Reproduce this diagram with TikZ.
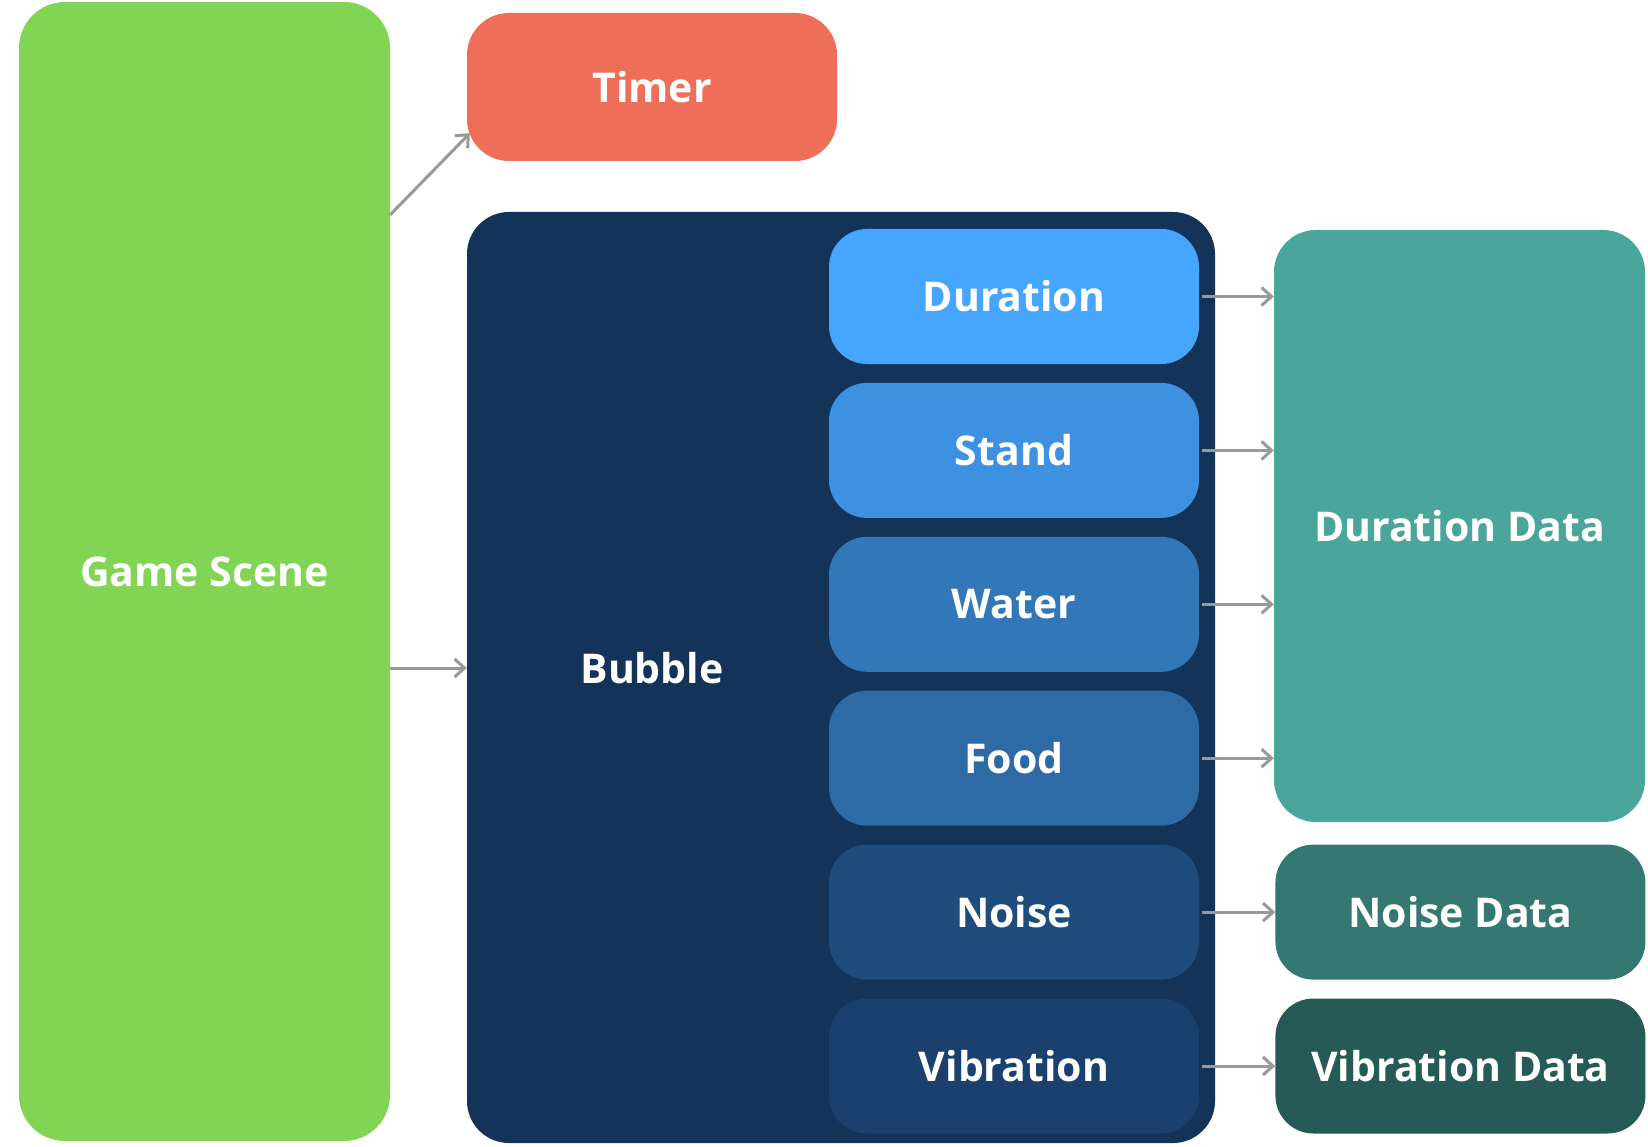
\documentclass[tikz,border=0pt]{standalone}
\usepackage{fontspec}
\setmainfont{Open Sans}
\usetikzlibrary{positioning, arrows.meta}

\definecolor{scenegreen}{HTML}{82D455}
\definecolor{timerred}{HTML}{EE6E58}
\definecolor{bubblenavy}{HTML}{133359}
\definecolor{durblue}{HTML}{46A6FF}
\definecolor{standblue}{HTML}{3E90E0}
\definecolor{waterblue}{HTML}{3278B8}
\definecolor{foodblue}{HTML}{2D6AA6}
\definecolor{noiseblue}{HTML}{1E4D7D}
\definecolor{vibblue}{HTML}{1B406D}
\definecolor{durteal}{HTML}{4AA59B}
\definecolor{noiseteal}{HTML}{357871}
\definecolor{vibteal}{HTML}{255A57}
\definecolor{linkgray}{HTML}{999999}

\begin{document}
\begin{tikzpicture}[x=1pt, y=-1pt,
  box/.style={rounded corners=38pt, inner sep=0pt, text=white,
    font=\fontsize{41}{48}\selectfont\bfseries},
  part/.style={box, minimum width=370pt, minimum height=135pt},
  link/.style={draw=linkgray, line width=3pt,
    -{Straight Barb[length=10pt, width=18pt]}}]
\useasboundingbox (0,0) rectangle (1648,1147);
\node[box, fill=scenegreen, minimum width=371pt, minimum height=1139pt, rounded corners=46pt] (game) at (204.5,571.5) {Game Scene};
\node[box, fill=timerred, minimum width=370pt, minimum height=148pt, rounded corners=42pt] (timer) at (652,87) {Timer};
\node[box, fill=bubblenavy, minimum width=748pt, minimum height=931pt, rounded corners=42pt] (bubble) at (841,677.5) {};
\node[box] (bubbletxt) at (652,668) {Bubble};
% parts of the bubble
\node[part, fill=durblue] (duration) at (1014,296.5) {Duration};
\node[part, fill=standblue, below=18.5pt of duration] (stand) {Stand};
\node[part, fill=waterblue, below=18.5pt of stand] (water) {Water};
\node[part, fill=foodblue, below=18.5pt of water] (food) {Food};
\node[part, fill=noiseblue, below=18.5pt of food] (noise) {Noise};
\node[part, fill=vibblue, below=18.5pt of noise] (vibration) {Vibration};
% data
\node[box, fill=durteal, minimum width=371pt, minimum height=592pt, rounded corners=42pt] (durdata) at (1459.5,526) {Duration Data};
\node[part, fill=noiseteal, right=76pt of noise] (noisedata) {Noise Data};
\node[part, fill=vibteal, right=76pt of vibration] (vibdata) {Vibration Data};
\draw[link] ([yshift=-213pt]game.north east) -- ([xshift=3pt,yshift=28pt]timer.south west);
\draw[link] (bubbletxt -| game.east) -- (bubbletxt -| bubble.west);
\foreach \n in {duration, stand, water, food}
  \draw[link] ([xshift=3pt]\n.east) -- (\n.east -| durdata.west);
\draw[link] ([xshift=3pt]noise.east) -- (noisedata.west);
\draw[link] ([xshift=3pt]vibration.east) -- (vibdata.west);
\end{tikzpicture}
\end{document}
